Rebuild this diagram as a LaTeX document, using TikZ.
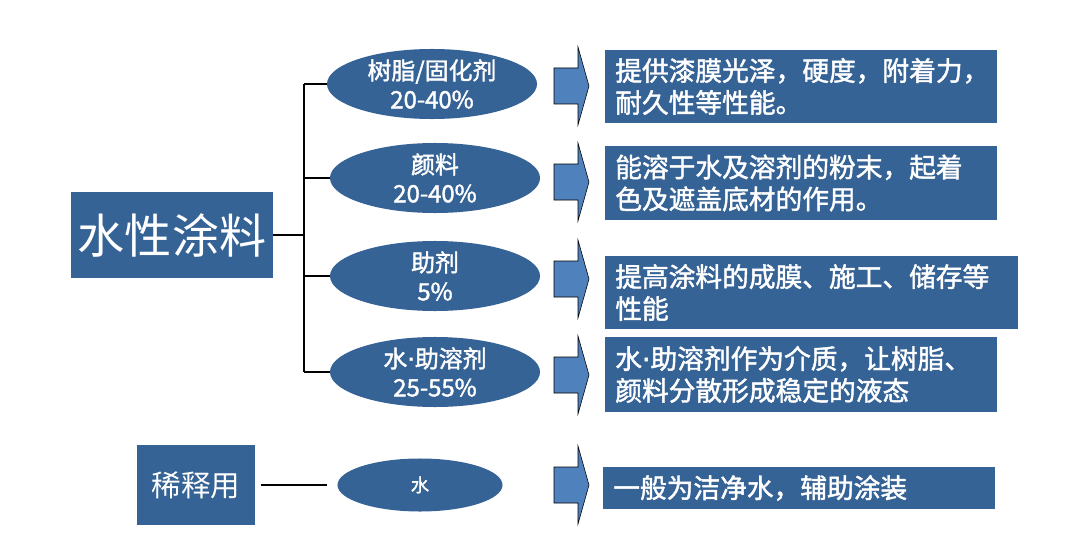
\documentclass[tikz,border=0pt]{standalone}
\usepackage{fontspec}
\newfontfamily\cjk{Noto Sans CJK SC}
\newfontfamily\cjkb[FakeBold=1.6]{Noto Sans CJK SC}
\newfontfamily\dotfont[FakeBold=1.6]{DejaVu Sans}
\newcommand\wdot{{\dotfont ·}}
\usetikzlibrary{shapes.geometric}
\definecolor{coatblue}{RGB}{54,99,149}
\definecolor{arrowblue}{RGB}{79,129,189}
\tikzset{
  headbox/.style={fill=coatblue, text=white, inner sep=0pt},
  partoval/.style={ellipse, fill=coatblue, text=white, align=center, inner sep=0pt,
                   minimum width=5.25cm, minimum height=1.75cm,
                   font=\cjkb\fontsize{17}{20.5}\selectfont},
  descbox/.style={fill=coatblue, text=white, anchor=west, align=left, inner xsep=0.25cm,
                  font=\cjkb\fontsize{19}{22.7}\selectfont},
  branch/.style={line width=1.6pt},
}
\begin{document}
\begin{tikzpicture}[x=0.025cm, y=-0.025cm]
\useasboundingbox (0,0) rectangle (1079,558);

% main product and its parts
\node[headbox, minimum width=5.025cm, minimum height=2.125cm, font=\cjk\fontsize{33.5}{36}\selectfont] (coating) at (172,235) {水性涂料};
\node[partoval] (resin) at (432,84) {树脂/固化剂\\20-40\%};
\node[partoval] (pigment) at (435,178) {颜料\\20-40\%};
\node[partoval] (additive) at (435,276) {助剂\\5\%};
\node[partoval] (solvent) at (435,372) {水\wdot 助溶剂\\25-55\%};
\coordinate (trunk) at (304,0);

\draw[branch] (coating.east) -- (coating.east -| trunk);
\draw[branch] (resin.west -| trunk) -- (solvent.west -| trunk);
\foreach \part in {resin, pigment, additive, solvent}
  \draw[branch] (\part.west -| trunk) -- (\part.west);

% what each part does
\node[descbox, text width=9.3cm, minimum height=1.825cm] (resinuse) at (605,86.5) {提供漆膜光泽，硬度，附着力，\\耐久性等性能。};
\node[descbox, text width=9.3cm, minimum height=1.85cm] (pigmentuse) at (605,183) {能溶于水及溶剂的粉末，起着\\色及遮盖底材的作用。};
\node[descbox, text width=9.825cm, minimum height=1.825cm] (additiveuse) at (605,292.5) {提高涂料的成膜、施工、储存等\\性能};
\node[descbox, text width=9.3cm, minimum height=1.875cm] (solventuse) at (605,374.5) {水\wdot 助溶剂作为介质，让树脂、\\颜料分散形成稳定的液态};

% thinning
\node[headbox, minimum width=2.95cm, minimum height=2cm, font=\cjk\fontsize{21}{24}\selectfont] (thinning) at (196,485) {稀释用};
\node[partoval, minimum width=4.125cm, minimum height=1.325cm, font=\cjkb\fontsize{13}{16}\selectfont] (water) at (420,485) {水};
\node[descbox, text width=9.3cm, minimum height=1.05cm] (wateruse) at (603,488) {一般为洁净水，辅助涂装};
\draw[branch] ([xshift=0.15cm]thinning.east) -- ([xshift=-0.25cm]water.west);

% block arrows
\foreach \y in {86,182,279,375,485}
  \draw[fill=arrowblue] (554,\y-18) -- (578,\y-18) -- (578,\y-39) -- (589,\y)
      -- (578,\y+39) -- (578,\y+18) -- (554,\y+18) -- cycle;
\end{tikzpicture}
\end{document}
